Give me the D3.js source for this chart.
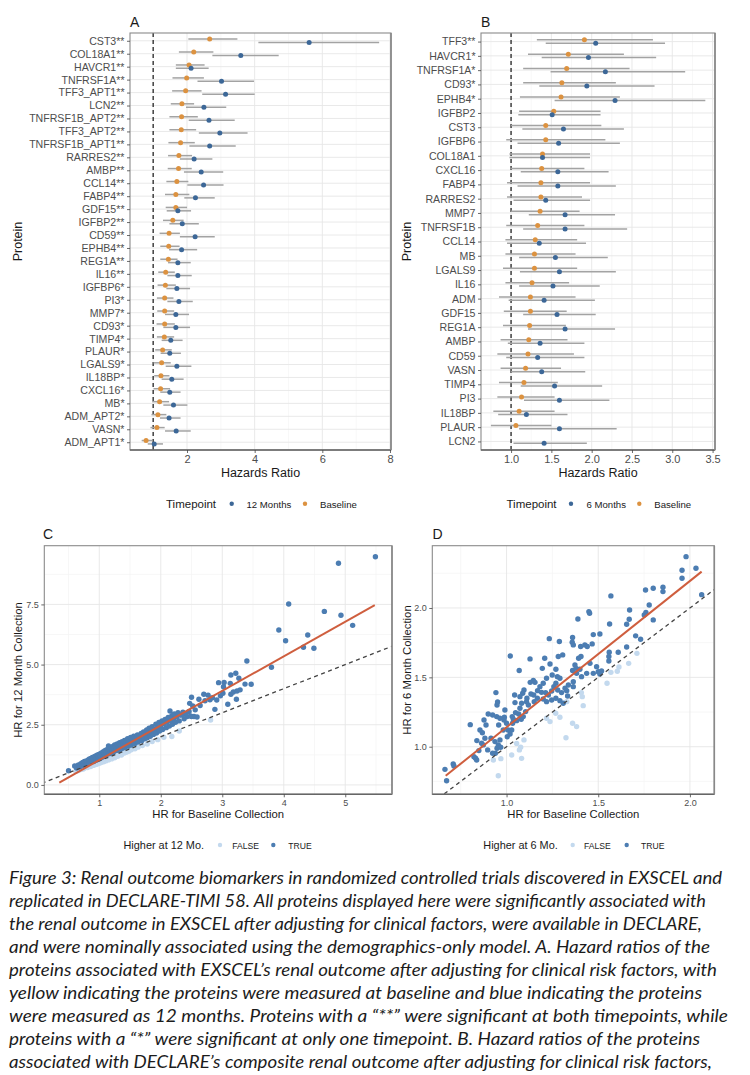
<!DOCTYPE html>
<html><head><meta charset="utf-8">
<script src="https://cdn.jsdelivr.net/npm/d3@7"></script>
<style>body{margin:0;background:#fff} svg{display:block}</style>
</head><body>
<svg id="fig" width="750" height="1075"></svg>
<script>
// ---------------- DATA ----------------
// Panel A (EXSCEL): baseline vs 12 months
const proteinsA = ["CST3**","COL18A1**","HAVCR1**","TNFRSF1A**","TFF3_APT1**","LCN2**","TNFRSF1B_APT2**","TFF3_APT2**","TNFRSF1B_APT1**","RARRES2**","AMBP**","CCL14**","FABP4**","GDF15**","IGFBP2**","CD59**","EPHB4**","REG1A**","IL16**","IGFBP6*","PI3*","MMP7*","CD93*","TIMP4*","PLAUR*","LGALS9*","IL18BP*","CXCL16*","MB*","ADM_APT2*","VASN*","ADM_APT1*"];
const baseA_hr = [2.67,2.20,2.06,1.99,1.96,1.85,1.84,1.83,1.81,1.76,1.75,1.70,1.67,1.67,1.58,1.47,1.46,1.45,1.37,1.36,1.34,1.34,1.34,1.33,1.28,1.25,1.23,1.22,1.19,1.14,1.11,0.79];
const baseA_lo = [2.04,1.76,1.67,1.57,1.56,1.52,1.48,1.48,1.45,1.44,1.43,1.39,1.35,1.37,1.29,1.19,1.21,1.21,1.15,1.13,1.11,1.12,1.10,1.11,1.06,1.01,1.03,1.01,0.97,0.95,0.92,0.66];
const baseA_hi = [3.49,2.78,2.52,2.50,2.43,2.21,2.32,2.27,2.23,2.15,2.14,2.04,2.07,2.00,1.90,1.79,1.78,1.72,1.64,1.67,1.60,1.62,1.64,1.62,1.55,1.52,1.48,1.50,1.47,1.39,1.34,0.97];
const m12A_hr = [5.61,3.59,2.12,3.02,3.14,2.50,2.65,2.97,2.67,2.21,2.42,2.49,2.25,1.73,1.86,2.24,1.84,1.73,1.73,1.70,1.76,1.67,1.67,1.52,1.49,1.70,1.55,1.49,1.60,1.47,1.68,1.03];
const m12A_lo = [4.11,2.75,1.67,2.31,2.45,1.97,2.05,2.35,2.07,1.79,1.91,2.01,1.92,1.40,1.48,1.79,1.47,1.44,1.42,1.39,1.42,1.35,1.30,1.25,1.22,1.37,1.25,1.21,1.30,1.20,1.35,0.84];
const m12A_hi = [7.68,4.71,2.64,3.98,4.00,3.16,3.41,3.79,3.44,2.75,3.07,3.08,2.82,2.12,2.35,2.82,2.30,2.11,2.14,2.09,2.17,2.06,2.09,1.87,1.82,2.13,1.90,1.81,2.01,1.81,2.11,1.29];
const ticksA = [2,4,6,8];

// Panel B (DECLARE): baseline vs 6 months
const proteinsB = ["TFF3**","HAVCR1*","TNFRSF1A*","CD93*","EPHB4*","IGFBP2","CST3","IGFBP6","COL18A1","CXCL16","FABP4","RARRES2","MMP7","TNFRSF1B","CCL14","MB","LGALS9","IL16","ADM","GDF15","REG1A","AMBP","CD59","VASN","TIMP4","PI3","IL18BP","PLAUR","LCN2"];
const baseB_hr = [1.91,1.71,1.69,1.63,1.62,1.53,1.43,1.43,1.39,1.38,1.37,1.37,1.36,1.33,1.30,1.29,1.29,1.26,1.24,1.24,1.23,1.22,1.21,1.18,1.16,1.13,1.10,1.06,null];
const baseB_lo = [1.32,1.21,1.15,1.15,1.11,1.10,1.00,0.94,0.98,0.99,0.95,0.95,1.00,0.94,0.93,0.93,0.90,0.93,0.85,0.91,0.90,0.87,0.83,0.87,0.85,0.83,0.78,0.75,null];
const baseB_hi = [2.76,2.40,2.47,2.30,2.35,2.11,2.12,2.17,1.98,1.91,1.98,1.88,1.85,1.91,1.82,1.80,1.82,1.72,1.80,1.69,1.68,1.70,1.78,1.62,1.58,1.54,1.54,1.50,null];
const m6B_hr = [2.05,1.96,2.17,1.94,2.29,1.51,1.65,1.59,1.39,1.58,1.58,1.43,1.67,1.67,1.35,1.55,1.60,1.52,1.41,1.57,1.67,1.36,1.33,1.38,1.54,1.60,1.19,1.60,1.41];
const m6B_lo = [1.43,1.38,1.49,1.35,1.54,1.09,1.14,1.08,0.98,1.12,1.08,1.03,1.22,1.15,0.95,1.10,1.11,1.10,0.97,1.15,1.21,0.96,0.94,1.00,1.12,1.16,0.84,1.10,1.03];
const m6B_hi = [2.91,2.80,3.16,2.78,3.41,2.11,2.40,2.35,1.98,2.21,2.30,1.98,2.29,2.44,1.93,2.20,2.30,2.10,2.04,2.05,2.29,1.91,1.91,1.92,2.13,2.22,1.70,2.31,1.94];
const ticksB = [1.0,1.5,2.0,2.5,3.0,3.5];

// Panel C: HR baseline (x) vs HR 12 months (y)
const cX = [0.50,0.60,0.63,0.66,0.68,0.70,0.72,0.73,0.75,0.76,0.78,0.79,0.80,0.82,0.83,0.84,0.86,0.87,0.88,0.89,0.90,0.91,0.92,0.93,0.94,0.95,0.96,0.97,0.98,0.99,1.00,1.01,1.02,1.03,1.04,1.05,1.06,1.07,1.08,1.09,1.10,1.11,1.12,1.13,1.14,1.15,1.16,1.17,1.18,1.19,1.20,1.21,1.22,1.23,1.24,1.25,1.26,1.27,1.28,1.29,1.30,1.31,1.32,1.33,1.34,1.35,1.36,1.37,1.38,1.39,1.40,1.41,1.42,1.44,1.45,1.46,1.47,1.49,1.50,1.51,1.52,1.54,1.55,1.56,1.58,1.59,1.60,1.62,1.63,1.65,1.66,1.68,1.69,1.71,1.72,1.74,1.75,1.77,1.78,1.80,1.81,1.83,1.85,1.86,1.88,1.90,1.92,1.93,1.95,1.97,1.98,2.00,2.02,2.03,2.05,2.07,2.09,2.10,2.12,2.14,2.15,2.16,2.18,2.19,2.21,2.22,2.24,2.26,2.28,2.30,2.32,2.34,2.36,2.38,2.40,2.43,2.46,2.47,2.49,2.50,2.50,2.52,2.54,2.56,2.59,2.62,2.64,2.70,2.72,2.77,2.80,2.84,2.88,2.91,2.94,2.97,3.01,3.02,3.03,3.09,3.14,3.14,3.13,3.18,3.22,3.23,3.24,3.27,3.29,3.37,3.40,3.47,3.80,3.92,4.03,4.08,4.32,4.39,4.49,4.66,4.89,4.93,5.12,5.49,
  0.62,0.66,0.70,0.72,0.74,0.77,0.79,0.81,0.83,0.85,0.86,0.88,0.90,0.91,0.93,0.95,0.96,0.98,1.00,1.01,1.03,1.05,1.07,1.09,1.11,1.13,1.15,1.18,1.20,1.22,1.25,1.28,1.30,1.33,1.36,1.40,1.44,1.48,1.52,1.58,1.63,1.70,1.78,1.86,1.95,2.05,2.18,2.30,2.81];
const cY = [0.59,0.79,0.70,0.83,0.74,0.88,0.79,0.93,0.84,0.97,0.86,1.00,0.90,1.04,0.92,1.08,0.96,1.11,1.00,1.14,1.04,0.97,1.17,1.06,1.20,1.02,1.12,1.24,1.08,1.16,1.28,1.10,1.20,1.32,1.14,1.25,1.37,1.18,1.30,1.42,1.22,1.34,1.46,1.27,1.38,1.62,1.30,1.48,1.40,1.55,1.33,1.45,1.60,1.37,1.52,1.66,1.42,1.58,1.48,1.70,1.44,1.62,1.53,1.75,1.47,1.66,1.57,1.80,1.52,1.70,1.62,1.85,1.56,1.76,1.66,1.92,1.61,1.82,1.72,1.97,1.66,1.88,1.77,2.02,1.72,1.93,1.83,2.08,1.78,1.98,1.88,2.14,1.84,2.04,2.20,1.92,2.10,2.28,1.96,2.16,2.36,2.02,2.24,2.42,2.10,2.30,2.52,2.16,2.38,2.60,2.24,2.46,2.66,2.30,2.54,2.72,2.38,2.60,2.80,2.45,3.07,2.68,2.88,2.52,2.74,2.95,2.60,2.82,3.00,2.66,2.90,2.91,3.02,2.75,2.96,2.84,3.05,3.39,2.86,3.64,2.84,3.28,2.84,3.12,2.82,3.56,3.30,3.77,3.50,3.73,3.54,3.62,3.14,3.53,4.25,3.70,3.81,4.08,4.26,3.35,3.77,4.57,4.22,3.86,4.64,3.56,3.90,4.43,3.95,4.19,5.15,4.18,4.89,6.44,5.99,7.52,5.72,6.23,5.68,7.21,9.21,7.05,6.63,9.48,
  0.57,0.60,0.64,0.68,0.66,0.71,0.74,0.72,0.77,0.80,0.76,0.83,0.81,0.86,0.84,0.89,0.86,0.92,0.90,0.95,0.93,0.98,0.96,1.02,1.00,1.06,1.04,1.10,1.08,1.15,1.13,1.20,1.19,1.26,1.24,1.32,1.36,1.40,1.46,1.50,1.57,1.64,1.70,1.80,1.88,1.98,2.01,2.24,2.70];
const fitC_x = [0.35, 5.48];
const fitC_y = [0.10, 7.47];
const ticksCx = [1,2,3,4,5];
const ticksCy = [0.0,2.5,5.0,7.5];

// Panel D: HR baseline (x) vs HR 6 months (y)
const dX = [1.979,1.957,2.033,1.957,2.064,1.853,1.853,1.800,1.758,1.569,1.778,1.671,1.800,1.760,1.751,1.669,1.655,1.704,1.731,1.655,1.609,1.562,1.449,1.453,1.389,1.467,1.427,1.440,1.406,1.560,1.558,1.558,1.509,1.473,1.360,1.358,1.364,1.404,1.393,1.373,1.455,1.360,1.379,1.400,1.382,1.409,1.364,1.337,1.319,1.328,1.282,1.233,1.288,1.306,1.269,1.277,1.291,1.249,1.218,1.269,1.258,1.246,1.228,1.191,1.213,1.168,1.200,1.218,1.128,1.208,1.237,1.195,1.200,1.182,1.169,1.148,1.151,1.133,1.146,1.155,1.129,1.111,1.109,1.119,1.104,1.082,1.073,1.066,1.091,1.080,1.055,1.069,1.020,1.044,1.095,1.088,1.073,1.049,1.033,1.028,1.019,1.004,1.009,0.982,1.000,0.957,0.964,0.937,0.955,0.948,0.968,0.939,0.924,0.915,0.882,0.868,0.855,0.888,0.877,0.900,0.924,0.946,0.948,0.942,0.951,0.991,0.988,1.031,1.037,0.986,0.964,1.046,0.802,0.838,0.864,0.897,0.831,0.837,0.822,0.709,0.713,0.664,0.673,0.849,0.873,1.246,1.269,1.291,1.309,1.328,1.300,1.279,1.333,1.364,1.437,1.500,1.518,1.473,1.509,1.491,
  1.711,1.666,1.604,1.569,1.613,1.548,1.413,1.418,1.408,1.360,1.382,1.324,1.291,1.268,1.237,1.095,1.077,1.070,1.082,0.969,0.955,0.928,1.218,1.055,1.028];
const dY = [2.370,2.272,2.286,2.214,2.096,2.149,2.118,2.142,2.130,2.087,2.022,1.986,1.914,1.967,1.950,1.919,1.883,1.799,1.775,1.719,1.681,1.885,1.974,1.962,1.921,1.741,1.734,1.722,1.650,1.681,1.650,1.618,1.813,1.808,1.787,1.753,1.734,1.722,1.638,1.589,1.601,1.549,1.565,1.558,1.529,1.505,1.469,1.445,1.421,1.404,1.650,1.779,1.758,1.662,1.558,1.505,1.493,1.517,1.493,1.457,1.433,1.402,1.373,1.392,1.390,1.349,1.344,1.325,1.633,1.638,1.596,1.565,1.457,1.433,1.404,1.373,1.325,1.380,1.477,1.464,1.464,1.349,1.325,1.301,1.253,1.313,1.277,1.236,1.217,1.198,1.188,1.549,1.654,1.373,1.409,1.385,1.361,1.246,1.169,1.121,1.092,1.072,1.121,1.121,1.169,1.157,1.049,1.037,1.013,0.989,0.996,0.953,0.953,1.061,1.061,1.101,1.121,1.157,1.193,1.236,1.229,1.217,1.301,1.390,1.322,1.265,1.212,1.217,1.198,1.193,1.205,1.318,1.159,1.044,1.025,0.977,0.917,0.904,0.928,0.876,0.861,0.837,0.755,0.972,1.013,1.337,1.349,1.332,1.313,1.325,1.390,1.409,1.366,1.433,1.529,1.541,1.546,1.529,1.524,1.577,
  1.673,1.601,1.544,1.536,1.575,1.457,1.361,1.296,1.390,1.169,1.145,1.065,1.212,1.241,1.181,1.049,0.996,0.977,0.916,0.914,0.791,0.904,1.205,1.024,0.940];
const fitD_x = [0.668, 2.064];
const fitD_y = [0.791, 2.262];
const ticksD = [1.0,1.5,2.0];

const captionLines = [
 "Figure 3: Renal outcome biomarkers in randomized controlled trials discovered in EXSCEL and",
 "replicated in DECLARE-TIMI 58. All proteins displayed here were significantly associated with",
 "the renal outcome in EXSCEL after adjusting for clinical factors, were available in DECLARE,",
 "and were nominally associated using the demographics-only model. A. Hazard ratios of the",
 "proteins associated with EXSCEL\u2019s renal outcome after adjusting for clinical risk factors, with",
 "yellow indicating the proteins were measured at baseline and blue indicating the proteins",
 "were measured as 12 months. Proteins with a \u201c**\u201d were significant at both timepoints, while",
 "proteins with a \u201c*\u201d were significant at only one timepoint.  B. Hazard ratios of the proteins",
 "associated with DECLARE\u2019s composite renal outcome after adjusting for clinical risk factors,"
];
const captionWidths = [713, 697, 693, 701, 708, 693, 719, 691, 703];

// ---------------- STYLE ----------------
const FONT = "'Liberation Sans', Arial, Helvetica, sans-serif";
const ORANGE = "#dc9240", BLUE_A = "#3c6797";
const TRUE_C = "#4c7db2", FALSE_C = "#c3d9ee", RED = "#cf5e3e";
const GRID_MAJ = "#e6e6e6", GRID_MIN = "#f3f3f3", BORDER = "#8a8a8a";

const svg = d3.select("#fig");
svg.append("rect").attr("width",750).attr("height",1075).attr("fill","#fff");

function styleAxis(g, fs) {
  g.select(".domain").remove();
  g.selectAll(".tick line").attr("stroke","#444").attr("stroke-width",0.8);
  g.selectAll(".tick text").attr("fill","#4d4d4d").attr("font-size",fs).attr("font-family",FONT);
}
function border(x0,y0,x1,y1){
  svg.append("rect").attr("x",x0).attr("y",y0).attr("width",x1-x0).attr("height",y1-y0)
    .attr("fill","none").attr("stroke",BORDER).attr("stroke-width",1.1);
  svg.append("line").attr("x1",x0).attr("x2",x1).attr("y1",y1).attr("y2",y1).attr("stroke","#666").attr("stroke-width",1.4);
  svg.append("line").attr("x1",x1).attr("x2",x1).attr("y1",y0).attr("y2",y1).attr("stroke","#888").attr("stroke-width",1.6);
}
function text(x,y,s,fs,opts={}){
  const t = svg.append("text").attr("x",x).attr("y",y).text(s).attr("font-size",fs)
    .attr("font-family",FONT).attr("fill",opts.fill||"#1a1a1a").attr("text-anchor",opts.anchor||"start");
  if(opts.rotate) t.attr("transform",`rotate(-90,${x},${y})`);
  return t;
}

// ---------------- FOREST ----------------
function forest(cfg){
  const {x0,x1,y0,y1,domain,proteins,series,ticks,minor} = cfg;
  const x = d3.scaleLinear().domain(domain).range([x0,x1]);
  const y = d3.scalePoint().domain(proteins).range([y0,y1]).padding(0.6);
  const g = svg.append("g");
  minor.forEach(v=>g.append("line").attr("x1",x(v)).attr("x2",x(v)).attr("y1",y0).attr("y2",y1).attr("stroke",GRID_MIN).attr("stroke-width",0.7));
  ticks.forEach(v=>g.append("line").attr("x1",x(v)).attr("x2",x(v)).attr("y1",y0).attr("y2",y1).attr("stroke",GRID_MAJ).attr("stroke-width",0.9));
  proteins.forEach(p=>g.append("line").attr("x1",x0).attr("x2",x1).attr("y1",y(p)).attr("y2",y(p)).attr("stroke",GRID_MAJ).attr("stroke-width",0.9));
  g.append("line").attr("x1",x(1)).attr("x2",x(1)).attr("y1",y0).attr("y2",y1)
    .attr("stroke","#333").attr("stroke-width",1.4).attr("stroke-dasharray","4,3");
  series.forEach(s=>{
    proteins.forEach((p,i)=>{
      if(s.hr[i]==null) return;
      g.append("line").attr("x1",x(s.lo[i])).attr("x2",x(s.hi[i])).attr("y1",y(p)+s.off).attr("y2",y(p)+s.off)
        .attr("stroke","#a3a3a3").attr("stroke-width",1.5);
    });
  });
  series.forEach(s=>{
    proteins.forEach((p,i)=>{
      if(s.hr[i]==null) return;
      g.append("circle").attr("cx",x(s.hr[i])).attr("cy",y(p)+s.off).attr("r",2.5).attr("fill",s.color);
    });
  });
  border(x0,y0,x1,y1);
  const ax = svg.append("g").attr("transform",`translate(0,${y1})`)
    .call(d3.axisBottom(x).tickValues(ticks).tickFormat(cfg.fmt).tickSize(3).tickPadding(2));
  styleAxis(ax,11);
  const ay = svg.append("g").attr("transform",`translate(${x0},0)`)
    .call(d3.axisLeft(y).tickSize(3).tickPadding(2.5));
  styleAxis(ay,10.6);
  text((x0+x1)/2, y1+27, "Hazards Ratio", 12.5, {anchor:"middle"});
  text(cfg.ytx, (y0+y1)/2, "Protein", 12.5, {anchor:"middle", rotate:true});
}

forest({x0:130,x1:391,y0:33,y1:450,domain:[0.315,8.03],proteins:proteinsA,
  series:[{hr:baseA_hr,lo:baseA_lo,hi:baseA_hi,color:ORANGE,off:-1.7},
          {hr:m12A_hr,lo:m12A_lo,hi:m12A_hi,color:BLUE_A,off:1.7}],
  ticks:ticksA, minor:[1,3,5,7], fmt:d3.format("d"), ytx:22});
forest({x0:481,x1:715,y0:33,y1:450,domain:[0.627,3.53],proteins:proteinsB,
  series:[{hr:baseB_hr,lo:baseB_lo,hi:baseB_hi,color:ORANGE,off:-1.7},
          {hr:m6B_hr,lo:m6B_lo,hi:m6B_hi,color:BLUE_A,off:1.7}],
  ticks:ticksB, minor:[0.75,1.25,1.75,2.25,2.75,3.25], fmt:d3.format(".1f"), ytx:411});

text(130,27,"A",14); text(481,27,"B",14);

// legends A / B
function legend(items, y){
  items.forEach(it=>{
    if(it.dot) svg.append("circle").attr("cx",it.x).attr("cy",y).attr("r",2.2).attr("fill",it.dot);
    else text(it.x, y+4, it.t, it.fs, {fill:"#1a1a1a"});
  });
}
legend([{x:166,t:"Timepoint",fs:11.5},{x:231.7,dot:BLUE_A},{x:246.5,t:"12 Months",fs:9.6},{x:305,dot:ORANGE},{x:320,t:"Baseline",fs:9.6}],503.7);
legend([{x:506.5,t:"Timepoint",fs:11.5},{x:571,dot:BLUE_A},{x:586.5,t:"6 Months",fs:9.6},{x:639.3,dot:ORANGE},{x:654.3,t:"Baseline",fs:9.6}],503.7);

// ---------------- SCATTERS ----------------
function scatter(cfg){
  const {x0,x1,y0,y1,xd,yd,xs,ys,fx,fy,tx,ty,mx,my,fmtX,fmtY} = cfg;
  const x = d3.scaleLinear().domain(xd).range([x0,x1]);
  const y = d3.scaleLinear().domain(yd).range([y1,y0]);
  const g = svg.append("g");
  const clipId = "clip"+cfg.id;
  svg.append("clipPath").attr("id",clipId).append("rect").attr("x",x0).attr("y",y0).attr("width",x1-x0).attr("height",y1-y0);
  mx.forEach(v=>g.append("line").attr("x1",x(v)).attr("x2",x(v)).attr("y1",y0).attr("y2",y1).attr("stroke",GRID_MIN).attr("stroke-width",0.7));
  my.forEach(v=>g.append("line").attr("y1",y(v)).attr("y2",y(v)).attr("x1",x0).attr("x2",x1).attr("stroke",GRID_MIN).attr("stroke-width",0.7));
  tx.forEach(v=>g.append("line").attr("x1",x(v)).attr("x2",x(v)).attr("y1",y0).attr("y2",y1).attr("stroke",GRID_MAJ).attr("stroke-width",0.9));
  ty.forEach(v=>g.append("line").attr("y1",y(v)).attr("y2",y(v)).attr("x1",x0).attr("x2",x1).attr("stroke",GRID_MAJ).attr("stroke-width",0.9));
  const pts = xs.map((v,i)=>({x:v,y:ys[i],hi:ys[i]>v}));
  const pg = g.append("g").attr("clip-path",`url(#${clipId})`);
  pg.selectAll("circle.f").data(pts.filter(p=>!p.hi)).join("circle")
    .attr("cx",d=>x(d.x)).attr("cy",d=>y(d.y)).attr("r",2.7).attr("fill",FALSE_C);
  pg.selectAll("circle.t").data(pts.filter(p=>p.hi)).join("circle")
    .attr("cx",d=>x(d.x)).attr("cy",d=>y(d.y)).attr("r",2.7).attr("fill",TRUE_C);
  const lo = Math.min(xd[0],yd[0]), hi = Math.max(xd[1],yd[1]);
  pg.append("line").attr("x1",x(lo)).attr("y1",y(lo)).attr("x2",x(hi)).attr("y2",y(hi))
    .attr("stroke","#444").attr("stroke-width",1.3).attr("stroke-dasharray","4,3.5");
  pg.append("line").attr("x1",x(fx[0])).attr("y1",y(fy[0])).attr("x2",x(fx[1])).attr("y2",y(fy[1]))
    .attr("stroke",RED).attr("stroke-width",2);
  border(x0,y0,x1,y1);
  const ax = svg.append("g").attr("transform",`translate(0,${y1})`)
    .call(d3.axisBottom(x).tickValues(tx).tickFormat(fmtX).tickSize(3).tickPadding(2));
  styleAxis(ax,9);
  const ay = svg.append("g").attr("transform",`translate(${x0},0)`)
    .call(d3.axisLeft(y).tickValues(ty).tickFormat(fmtY).tickSize(3).tickPadding(2.5));
  styleAxis(ay,9);
  text((x0+x1)/2, y1+24, cfg.xt, 11.3, {anchor:"middle"});
  text(cfg.ytx, (y0+y1)/2, cfg.yt, 11.3, {anchor:"middle", rotate:true});
}

scatter({id:"C",x0:44.3,x1:392,y0:545.7,y1:794.3,xd:[0.106,5.76],yd:[-0.39,9.94],xs:cX,ys:cY,fx:fitC_x,fy:fitC_y,
  tx:ticksCx,ty:ticksCy,mx:[0.5,1.5,2.5,3.5,4.5,5.5],my:[1.25,3.75,6.25,8.75],fmtX:d3.format("d"),fmtY:d3.format(".1f"),
  xt:"HR for Baseline Collection", yt:"HR for 12 Month Collection", ytx:22});
scatter({id:"D",x0:432.3,x1:714.3,y0:545.7,y1:794.3,xd:[0.595,2.133],yd:[0.657,2.449],xs:dX,ys:dY,fx:fitD_x,fy:fitD_y,
  tx:ticksD,ty:ticksD,mx:[0.75,1.25,1.75],my:[0.75,1.25,1.75,2.25],fmtX:d3.format(".1f"),fmtY:d3.format(".1f"),
  xt:"HR for Baseline Collection", yt:"HR for 6 Month Collection", ytx:410.5});

text(43,539,"C",14); text(432.5,539,"D",14);

legend([{x:123.5,t:"Higher at 12 Mo.",fs:10.9},{x:220,dot:FALSE_C},{x:232.3,t:"FALSE",fs:8.6},{x:273.3,dot:TRUE_C},{x:288.3,t:"TRUE",fs:8.6}],845);
legend([{x:483.3,t:"Higher at 6 Mo.",fs:10.9},{x:572.7,dot:FALSE_C},{x:584,t:"FALSE",fs:8.6},{x:626.7,dot:TRUE_C},{x:641,t:"TRUE",fs:8.6}],845);

// ---------------- CAPTION ----------------
captionLines.forEach((s,i)=>{
  svg.append("text").attr("x",9).attr("y",884+i*23).text(s)
    .attr("font-family","Lato,'Open Sans','Liberation Sans',sans-serif")
    .attr("font-style","italic").attr("font-size",17.5).attr("fill","#1c1c1c")
    .attr("textLength",captionWidths[i]).attr("lengthAdjust","spacingAndGlyphs");
});
</script>
</body></html>
